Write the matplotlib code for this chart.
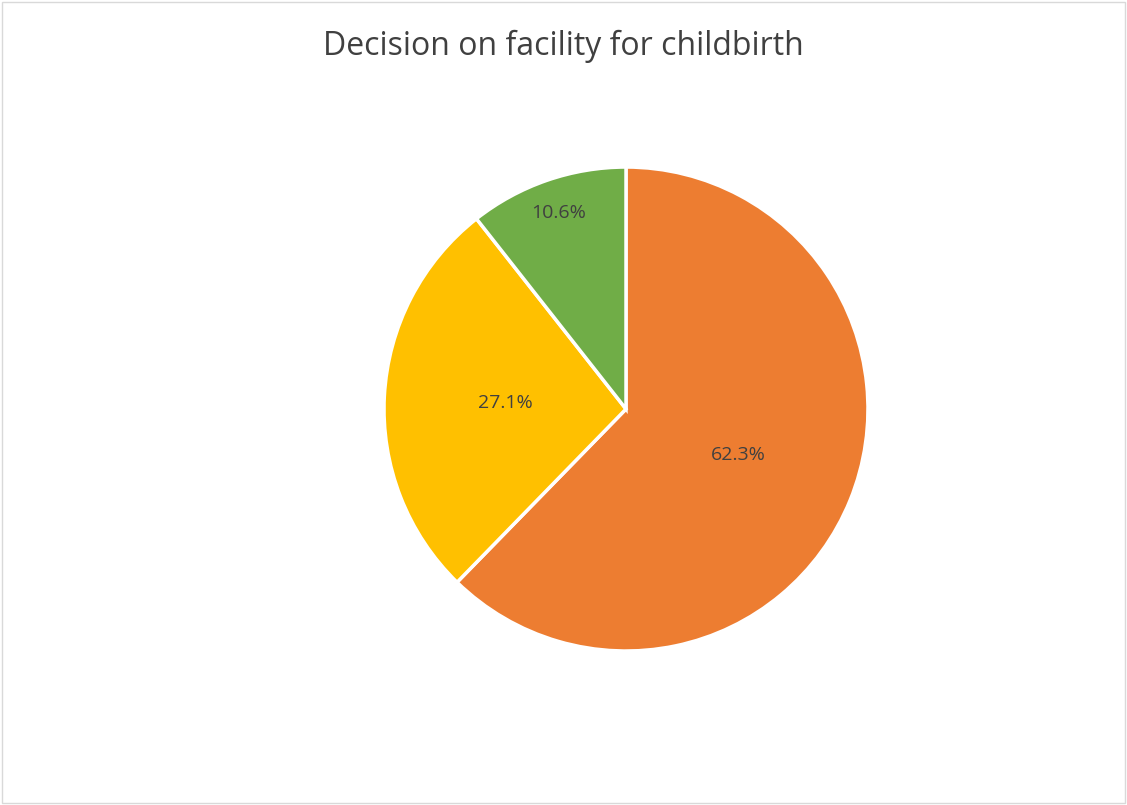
import numpy as np
import matplotlib.pyplot as plt
from matplotlib.patches import Rectangle

# slice shares in percent, clockwise from 12 o'clock
shares = [62.3, 27.1, 10.6]
slice_colors = ['#ED7D31', '#FFC000', '#70AD47']
label_dist = [0.5, 0.5, 0.855]
title = 'Decision on facility for childbirth'

plt.rcParams['font.family'] = ['Open Sans', 'DejaVu Sans']

fig = plt.figure(figsize=(11.27, 8.05), dpi=100)
fig.patch.set_facecolor('white')

# thin grey frame like the chart area border
fig.add_artist(Rectangle((0.0015, 0.002), 0.997, 0.996, transform=fig.transFigure,
                         fill=False, edgecolor='#D9D9D9', linewidth=1))

fig.text(0.4996, 0.943, title, ha='center', va='center', fontsize=23, color='#404040')

ax = fig.add_axes([0.3407, 0.1913, 0.4295, 0.6012])
wedges, texts, autotexts = ax.pie(
    shares, colors=slice_colors, startangle=90, counterclock=False,
    autopct='%1.1f%%', pctdistance=0.5,
    wedgeprops=dict(edgecolor='white', linewidth=2.5),
    textprops=dict(fontsize=14, color='#404040'))
ax.set_xlim(-1, 1)
ax.set_ylim(-1, 1)
ax.set_aspect('equal')

# move labels to per-slice distances (the small slice sits further out)
for w, t, d in zip(wedges, autotexts, label_dist):
    ang = np.deg2rad((w.theta1 + w.theta2) / 2)
    t.set_position((d * np.cos(ang), d * np.sin(ang)))

fig.savefig('out.png', dpi=100, facecolor='white')
